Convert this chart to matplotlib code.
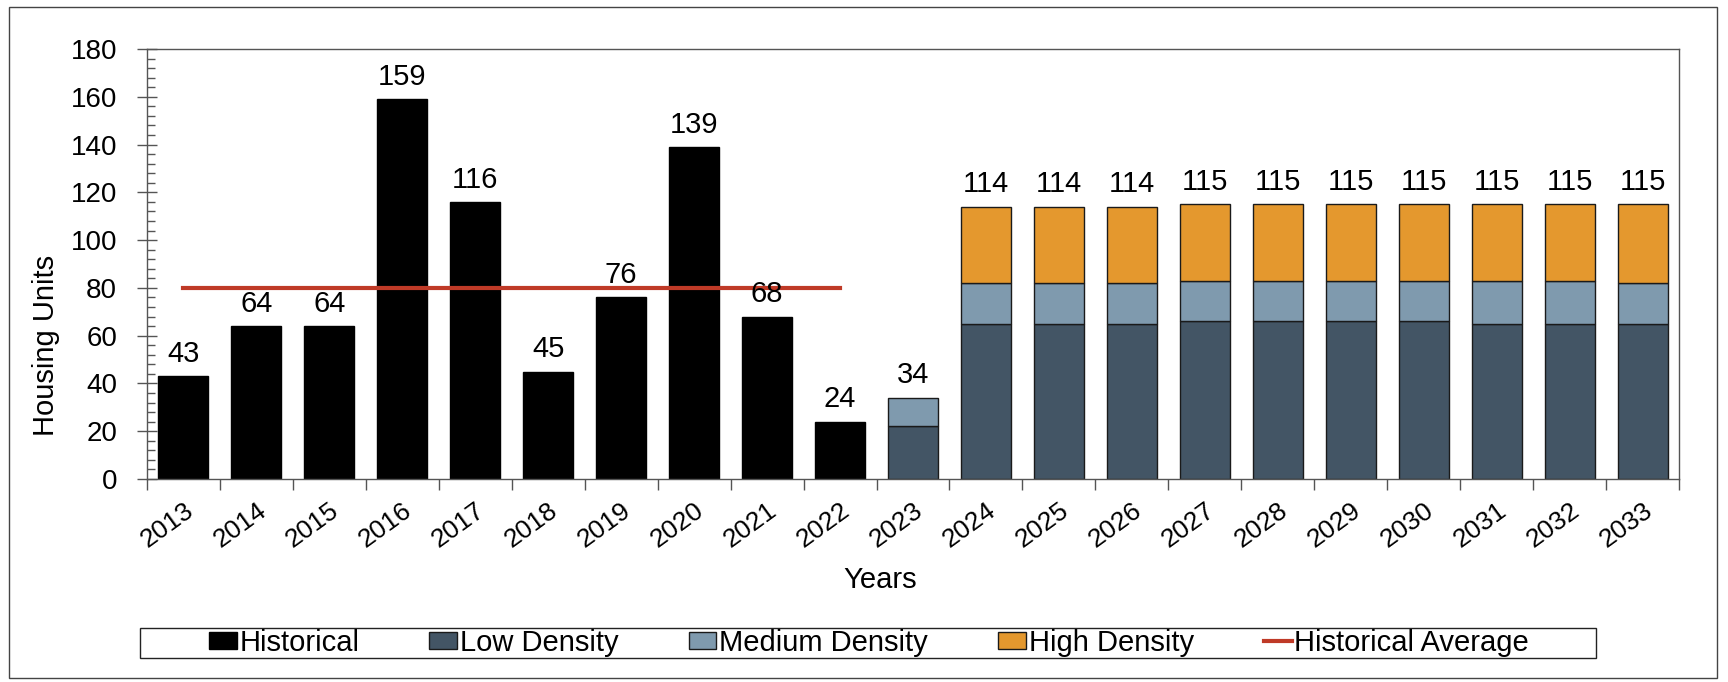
import matplotlib.pyplot as plt
import matplotlib.patches as mpatches
from matplotlib.lines import Line2D
from matplotlib.ticker import MultipleLocator
import numpy as np

plt.rcParams['font.family'] = ['Liberation Sans', 'DejaVu Sans']

years = [str(y) for y in range(2013, 2034)]
historical = [43, 64, 64, 159, 116, 45, 76, 139, 68, 24]
low = [22, 65, 65, 65, 66, 66, 66, 66, 65, 65, 65]
medium = [12, 17, 17, 17, 17, 17, 17, 17, 18, 18, 17]
high = [0, 32, 32, 32, 32, 32, 32, 32, 32, 32, 33]
hist_avg = sum(historical) / len(historical)

c_hist = 'black'
c_low = '#435565'
c_med = '#7f9aae'
c_high = '#e4982e'
c_avg = '#bf3a27'

fig = plt.figure(figsize=(17.28, 6.82), dpi=100)
ax = fig.add_axes([147 / 1728, 1 - 479 / 682, 1532 / 1728, 430 / 682])

x = np.arange(len(years))
xh = x[:len(historical)]
xp = x[len(historical):]
w = 0.685

ax.bar(xh, historical, w, color=c_hist, edgecolor=c_hist, zorder=2)
low_a = np.array(low)
med_a = np.array(medium)
high_a = np.array(high)
ax.bar(xp, low_a, w, color=c_low, edgecolor='#1a1a1a', linewidth=1, zorder=2)
ax.bar(xp, med_a, w, bottom=low_a, color=c_med, edgecolor='#1a1a1a', linewidth=1, zorder=2)
mask = high_a > 0
ax.bar(xp[mask], high_a[mask], w, bottom=(low_a + med_a)[mask], color=c_high,
       edgecolor='#1a1a1a', linewidth=1, zorder=2)

ax.plot([xh[0], xh[-1]], [hist_avg, hist_avg], color=c_avg, lw=3, zorder=3)

totals = list(historical) + list(low_a + med_a + high_a)
for xi, t in zip(x, totals):
    ax.annotate(str(t), (xi, t), xytext=(0, 6), textcoords='offset points',
                ha='center', va='bottom', fontsize=21)

ax.set_xlim(-0.5, len(years) - 0.5)
ax.set_ylim(0, 180)
ax.yaxis.set_major_locator(MultipleLocator(20))
ax.yaxis.set_minor_locator(MultipleLocator(4))
ax.tick_params(axis='y', which='major', direction='inout', length=15, width=1,
               labelsize=20, pad=14, color='#555555')
ax.tick_params(axis='y', which='minor', direction='in', length=6, width=1, color='#555555')

ax.set_xticks(x)
ax.set_xticklabels(years, rotation=36, ha='right', rotation_mode='anchor')
ax.set_xticks(np.arange(-0.5, len(years)), minor=True)
ax.tick_params(axis='x', which='major', length=0, labelsize=19, pad=14)
ax.tick_params(axis='x', which='minor', direction='out', length=8, width=1, color='#555555')

for s in ax.spines.values():
    s.set_color('#555555')
    s.set_linewidth(1)

ax.set_ylabel('Housing Units', fontsize=21)
ax.yaxis.set_label_coords((60 - 147) / 1532, 0.31)
ax.set_xlabel('Years', fontsize=21)
ax.xaxis.set_label_coords((880 - 147) / 1532, -(566 - 479) / 430)

# legend
handles = [
    mpatches.Patch(facecolor=c_hist, edgecolor=c_hist, label='Historical'),
    mpatches.Patch(facecolor=c_low, edgecolor='#1a1a1a', label='Low Density'),
    mpatches.Patch(facecolor=c_med, edgecolor='#1a1a1a', label='Medium Density'),
    mpatches.Patch(facecolor=c_high, edgecolor='#1a1a1a', label='High Density'),
    Line2D([0], [0], color=c_avg, lw=3, label='Historical Average'),
]
fig.legend(handles=handles, loc='center', bbox_to_anchor=(869 / 1728, 1 - 643 / 682),
           ncol=5, frameon=False, fontsize=21, handlelength=0.95, handleheight=0.55,
           handletextpad=0.1, columnspacing=2.4, borderpad=0)
fig.patches.append(mpatches.Rectangle((140 / 1728, 1 - 658 / 682), 1456 / 1728, 30 / 682,
                                      transform=fig.transFigure, fill=False,
                                      edgecolor='#222222', lw=1))
fig.patches.append(mpatches.Rectangle((9 / 1728, 1 - 678 / 682), 1708 / 1728, 671 / 682,
                                      transform=fig.transFigure, fill=False,
                                      edgecolor='#444444', lw=1))

fig.savefig('out.png', dpi=100)
